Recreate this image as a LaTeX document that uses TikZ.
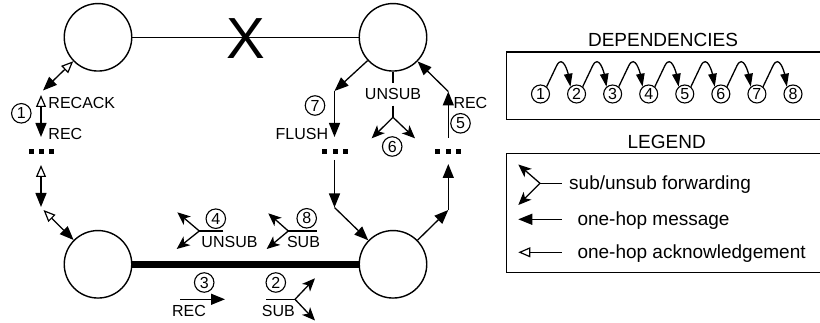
\documentclass[tikz,border=0pt]{standalone}
\usepackage{fontspec}
\setmainfont{Liberation Sans}
\usetikzlibrary{arrows.meta}
\begin{document}
\begin{tikzpicture}[x=1pt,y=1pt,
  ln/.style={line width=1.3pt},
  bignode/.style={circle,draw,line width=1.4pt,minimum size=67.5pt,inner sep=0pt},
  num/.style={circle,draw,line width=1.1pt,minimum size=19.5pt,inner sep=0pt,font=\fontsize{16}{16}\selectfont},
  dnum/.style={num,minimum size=18pt},
  lab/.style={inner sep=0pt,font=\fontsize{16}{16}\selectfont},
  ttl/.style={inner sep=0pt,font=\fontsize{19}{19}\selectfont},
  sq/.style={rectangle,fill,minimum size=5pt,inner sep=0pt},
  msg/.style={ln,-{Triangle[length=14pt,width=11pt]}},
  mack/.style={ln,{Triangle[open,length=12pt,width=10pt,line width=1.2pt]}-{Triangle[length=14pt,width=11pt]}},
  ackonly/.style={ln,-{Triangle[open,length=12pt,width=10pt,line width=1.2pt]}},
  fwd/.style={ln,-{Stealth[length=13pt,width=11pt,inset=3.5pt]}},
  dep/.style={ln,-{Triangle[length=13pt,width=8.5pt]}},
]
\useasboundingbox (0,0) rectangle (820,-323);

% main nodes
\node[bignode] (TL) at (98,-37.3) {};
\node[bignode] (TR) at (393,-37.3) {};
\node[bignode] (BL) at (98,-264.3) {};
\node[bignode] (BR) at (393,-264.3) {};

\draw[ln] (TL) -- (TR);
\node[inner sep=0pt,font=\fontsize{58}{58}\selectfont] (X) at (245.5,-39) {X};
\draw[line width=6.5pt] (BL) -- (BR);

% left column
\coordinate (a1) at (43,-90.5);
\draw[mack] (TL) -- (a1);
\coordinate (l1t) at (41,-95);
\coordinate (l1b) at (41,-137);
\draw[mack] (l1t) -- (l1b);
\node[num] (n1) at (21.3,-113.3) {1};
\node[lab,anchor=west] (lRA) at (48.3,-102.5) {RECACK};
\node[lab,anchor=west] (lR1) at (48.3,-134) {REC};
\node[sq] (dl1) at (31,-151.5) {};
\node[sq] (dl2) at (41,-151.5) {};
\node[sq] (dl3) at (51,-151.5) {};
\coordinate (l2t) at (41,-165);
\coordinate (l2b) at (41,-207);
\draw[mack] (l2t) -- (l2b);
\coordinate (a2) at (43.5,-210);
\draw[mack] (a2) -- (BL);

% middle column
\coordinate (m1) at (334.5,-91);
\draw[msg] (TR) -- (m1);
\coordinate (m2) at (334.5,-137);
\draw[msg] (m1) -- (m2);
\node[num] (n7) at (315,-105.5) {7};
\node[lab,anchor=east] (lFL) at (328.3,-134.2) {FLUSH};
\node[sq] (dm1) at (324.5,-151.5) {};
\node[sq] (dm2) at (335,-151.5) {};
\node[sq] (dm3) at (345.5,-151.5) {};
\coordinate (m3) at (334.5,-160);
\coordinate (m4) at (334.5,-207.5);
\draw[msg] (m3) -- (m4);
\draw[msg] (m4) -- (BR);

% unsub below TR
\node[lab,inner sep=5.5pt] (lUN) at (393,-94.2) {UNSUB};
\draw[ln] (TR) -- (lUN);
\coordinate (uf) at (393,-117.3);
\draw[ln] (lUN) -- (uf);
\coordinate (ua) at (371.7,-138.3);
\coordinate (ub) at (415,-138.3);
\draw[fwd] (uf) -- (ua);
\draw[fwd] (uf) -- (ub);
\node[num] (n6) at (392.2,-146.5) {6};

% right column
\coordinate (r1) at (448.3,-138);
\coordinate (r2) at (448.3,-91.5);
\draw[msg] (r1) -- (r2);
\draw[msg] (r2) -- (TR);
\node[lab,anchor=west] (lR2) at (453.3,-102.5) {REC};
\node[num] (n5) at (460.5,-123.3) {5};
\node[sq] (dr1) at (437.8,-151.5) {};
\node[sq] (dr2) at (448.3,-151.5) {};
\node[sq] (dr3) at (458.8,-151.5) {};
\coordinate (r3) at (448.3,-210);
\draw[msg] (BR) -- (r3);
\coordinate (r4) at (448.3,-164);
\draw[msg] (r3) -- (r4);

% bottom: 4 UNSUB
\coordinate (f4) at (199.3,-231);
\coordinate (f4e) at (223.3,-231);
\draw[ln] (f4e) -- (f4);
\coordinate (f4a) at (177.3,-212.3);
\coordinate (f4b) at (176.7,-249);
\draw[fwd] (f4) -- (f4a);
\draw[fwd] (f4) -- (f4b);
\node[num] (n4) at (215.8,-218.7) {4};
\node[lab] (lUN2) at (229.5,-241.7) {UNSUB};

% bottom: 8 SUB
\coordinate (f8) at (288.3,-231);
\coordinate (f8e) at (316.7,-231);
\draw[ln] (f8e) -- (f8);
\coordinate (f8a) at (268.3,-213.3);
\coordinate (f8b) at (266.7,-249);
\draw[fwd] (f8) -- (f8a);
\draw[fwd] (f8) -- (f8b);
\node[num] (n8) at (306.7,-218.3) {8};
\node[lab] (lSB8) at (303.5,-241.7) {SUB};

% bottom: 3 REC
\coordinate (t3a) at (180,-299.3);
\coordinate (t3b) at (225,-299.3);
\draw[msg] (t3a) -- (t3b);
\node[num] (n3) at (204.2,-282.5) {3};
\node[lab] (lR3) at (189,-310.8) {REC};

% bottom: 2 SUB
\coordinate (f2s) at (266,-299.3);
\coordinate (f2) at (295,-299.3);
\draw[ln] (f2s) -- (f2);
\coordinate (f2a) at (315,-278.3);
\coordinate (f2b) at (315,-320.5);
\draw[fwd] (f2) -- (f2a);
\draw[fwd] (f2) -- (f2b);
\node[num] (n2) at (275.8,-282.5) {2};
\node[lab] (lSB2) at (278.3,-310.8) {SUB};

% dependencies
\node[ttl] (tDep) at (663,-39.7) {DEPENDENCIES};
\draw[ln] (506.7,-52) rectangle (822,-119.5);
\foreach \i in {1,...,8}
  \node[dnum] (d\i) at ({540.5+36.07*(\i-1)},-94) {\i};
\foreach \i [count=\j from 2] in {1,...,7}
  \draw[dep] (d\i.50) -- ++(10,21) to[out=63,in=100,looseness=1.4] (d\j.130);

% legend
\node[ttl] (tLeg) at (666.7,-142) {LEGEND};
\draw[ln] (506.7,-153.8) rectangle (822,-272.5);
\coordinate (lf) at (540,-183.3);
\coordinate (lfe) at (561.7,-183.3);
\coordinate (lfa) at (518.3,-164.5);
\coordinate (lfb) at (518.3,-205);
\draw[ln] (lfe) -- (lf);
\draw[fwd] (lf) -- (lfa);
\draw[fwd] (lf) -- (lfb);
\node[ttl,anchor=base west] (tx1) at (569,-190) {sub/unsub forwarding};
\coordinate (lm1) at (561.7,-219.3);
\coordinate (lm2) at (518.3,-219.3);
\draw[msg] (lm1) -- (lm2);
\node[ttl,anchor=base west] (tx2) at (577.3,-225.8) {one-hop message};
\coordinate (la1) at (561.7,-252.3);
\coordinate (la2) at (518.3,-252.3);
\draw[ackonly] (la1) -- (la2);
\node[ttl,anchor=base west] (tx3) at (577.3,-258.8) {one-hop acknowledgement};
\end{tikzpicture}
\end{document}
